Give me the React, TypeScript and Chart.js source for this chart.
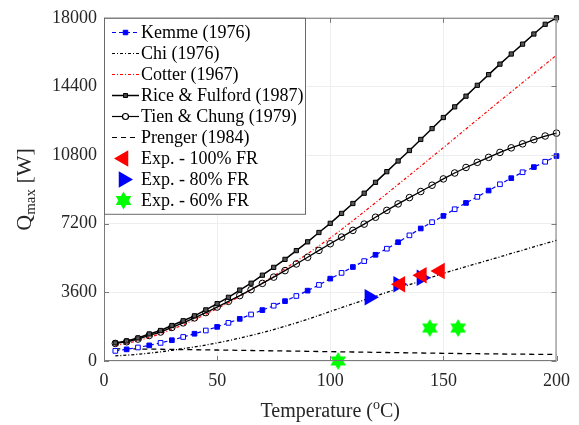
import React, { useEffect, useRef } from 'react';
import { Chart, registerables } from 'chart.js';
Chart.register(...registerables);

// ---------- data ----------
const temps = [5, 10, 15, 20, 25, 30, 35, 40, 45, 50, 55, 60, 65, 70, 75, 80, 85, 90, 95, 100,
  105, 110, 115, 120, 125, 130, 135, 140, 145, 150, 155, 160, 165, 170, 175, 180, 185, 190, 195, 200];

const kemme = [530, 610, 710, 820, 950, 1090, 1260, 1430, 1600, 1790, 2000, 2210, 2440, 2670, 2900, 3140, 3410, 3690, 3990, 4320,
  4620, 4930, 5240, 5570, 5890, 6230, 6590, 6950, 7280, 7610, 7960, 8290, 8610, 8940, 9270, 9590, 9900, 10170, 10450, 10750];

const chi = [270, 305, 350, 410, 480, 560, 650, 740, 840, 950, 1070, 1200, 1340, 1490, 1650, 1820, 2000, 2190, 2390, 2600,
  2800, 3000, 3200, 3400, 3600, 3800, 4000, 4200, 4400, 4600, 4775, 4950, 5120, 5290, 5460, 5640, 5810, 5990, 6160, 6330];

const cotter = [820, 920, 1060, 1240, 1430, 1660, 1900, 2160, 2450, 2750, 3060, 3390, 3730, 4090, 4460, 4840, 5230, 5630, 6040, 6450,
  6900, 7360, 7830, 8300, 8780, 9260, 9740, 10220, 10710, 11190, 11680, 12170, 12660, 13150, 13640, 14120, 14600, 15080, 15560, 16040];

const rice = [950, 1050, 1210, 1420, 1600, 1860, 2110, 2370, 2680, 3010, 3340, 3720, 4080, 4500, 4910, 5330, 5790, 6250, 6740, 7220,
  7740, 8260, 8800, 9370, 9930, 10490, 11040, 11620, 12190, 12770, 13330, 13890, 14460, 15020, 15570, 16100, 16620, 17150, 17660, 18000];

const tien = [920, 1010, 1150, 1340, 1520, 1760, 2000, 2260, 2540, 2830, 3130, 3430, 3740, 4070, 4400, 4740, 5090, 5440, 5800, 6150,
  6500, 6850, 7180, 7540, 7900, 8240, 8570, 8890, 9220, 9550, 9860, 10150, 10420, 10680, 10940, 11180, 11390, 11610, 11800, 11950];

const prenger = [640, 635, 630, 622, 615, 607, 600, 592, 584, 576, 568, 560, 552, 543, 535, 526, 517, 508, 499, 490,
  481, 472, 463, 454, 445, 436, 428, 420, 412, 404, 396, 389, 382, 375, 369, 363, 357, 352, 347, 342];

const exp100T = [131, 140.5, 148.5];
const exp100Q = [4030, 4500, 4720];
const exp80T = [117.3, 130, 140.3];
const exp80Q = [3340, 4030, 4370];
const exp60T = [103.5, 144, 156.5];
const exp60Q = [0, 1730, 1730];

const xTicks = [0, 50, 100, 150, 200];
const yTicks = [0, 3600, 7200, 10800, 14400, 18000];

const legendLabels = ['Kemme (1976)', 'Chi (1976)', 'Cotter (1967)', 'Rice & Fulford (1987)', 'Tien & Chung (1979)',
  'Prenger (1984)', 'Exp. - 100% FR', 'Exp. - 80% FR', 'Exp. - 60% FR'];

// ---------- helpers ----------
const SERIF = '"Liberation Serif", "Times New Roman", serif';
const BLUE = '#0000ff';
const RED = '#ff0000';
const GREEN = '#00ff00';

function pts(xs: number[], ys: number[]) {
  return xs.map((x, i) => ({ x, y: ys[i] }));
}

function hexPath(ctx: CanvasRenderingContext2D, cx: number, cy: number, R: number) {
  const r = R / Math.sqrt(3);
  ctx.beginPath();
  for (let i = 0; i < 12; i++) {
    const a = -Math.PI / 2 + (i * Math.PI) / 6;
    const rad = i % 2 === 0 ? R : r;
    const px = cx + rad * Math.cos(a);
    const py = cy + rad * Math.sin(a);
    if (i === 0) ctx.moveTo(px, py);
    else ctx.lineTo(px, py);
  }
  ctx.closePath();
}

function makeStar(): HTMLCanvasElement {
  const c = document.createElement('canvas');
  c.width = 20;
  c.height = 20;
  const g = c.getContext('2d')!;
  hexPath(g, 10, 10, 9);
  g.fillStyle = GREEN;
  g.fill();
  return c;
}

function drawRectMarker(ctx: CanvasRenderingContext2D, x: number, y: number, s: number, fill: string, stroke: string) {
  ctx.save();
  ctx.setLineDash([]);
  ctx.fillStyle = fill;
  ctx.strokeStyle = stroke;
  ctx.lineWidth = 1;
  ctx.beginPath();
  ctx.rect(x - s / 2, y - s / 2, s, s);
  ctx.fill();
  ctx.stroke();
  ctx.restore();
}

function drawTri(ctx: CanvasRenderingContext2D, x: number, y: number, r: number, dir: number, color: string) {
  ctx.save();
  ctx.fillStyle = color;
  ctx.beginPath();
  ctx.moveTo(x + dir * r, y);
  ctx.lineTo(x - dir * r * 0.5, y - r * 0.866);
  ctx.lineTo(x - dir * r * 0.5, y + r * 0.866);
  ctx.closePath();
  ctx.fill();
  ctx.restore();
}

const overlay = {
  id: 'overlay',
  afterDraw(chart: any) {
    const ctx: CanvasRenderingContext2D = chart.ctx;
    const { left, right, top, bottom } = chart.chartArea;
    const xs = chart.scales.x;
    const ys = chart.scales.y;
    ctx.save();
    // axes box
    ctx.strokeStyle = '#7a7a7a';
    ctx.lineWidth = 1;
    ctx.setLineDash([]);
    ctx.strokeRect(left + 0.5, top + 0.5, right - left - 1, bottom - top - 1);
    // inward ticks
    ctx.beginPath();
    xTicks.forEach((t) => {
      const px = Math.round(xs.getPixelForValue(t)) + 0.5;
      ctx.moveTo(px, bottom);
      ctx.lineTo(px, bottom - 5);
      ctx.moveTo(px, top);
      ctx.lineTo(px, top + 5);
    });
    yTicks.forEach((t) => {
      const py = Math.round(ys.getPixelForValue(t)) + 0.5;
      ctx.moveTo(left, py);
      ctx.lineTo(left + 5, py);
      ctx.moveTo(right, py);
      ctx.lineTo(right - 5, py);
    });
    ctx.stroke();

    // legend
    const bx = left + 0.5, by = top + 0.5, bw = 201, bh = 196;
    ctx.fillStyle = '#ffffff';
    ctx.fillRect(bx, by, bw, bh);
    ctx.strokeStyle = '#6a6a6a';
    ctx.strokeRect(bx, by, bw, bh);
    const x0 = 112, x1 = 139, xm = 125.5, tx = 141;
    ctx.font = '18px ' + SERIF;
    ctx.textBaseline = 'middle';
    ctx.textAlign = 'left';
    legendLabels.forEach((lab, i) => {
      const y = 32.5 + i * 21;
      ctx.save();
      ctx.lineWidth = 1.2;
      if (i === 0) {
        ctx.strokeStyle = BLUE; ctx.setLineDash([4, 3]);
        ctx.beginPath(); ctx.moveTo(x0, y); ctx.lineTo(x1, y); ctx.stroke();
        drawRectMarker(ctx, xm, y, 4.5, BLUE, BLUE);
      } else if (i === 1 || i === 2) {
        ctx.strokeStyle = i === 1 ? '#000' : RED; ctx.setLineDash([3, 2, 1, 2]);
        ctx.beginPath(); ctx.moveTo(x0, y); ctx.lineTo(x1, y); ctx.stroke();
      } else if (i === 3) {
        ctx.strokeStyle = '#000'; ctx.lineWidth = 1.5;
        ctx.beginPath(); ctx.moveTo(x0, y); ctx.lineTo(x1, y); ctx.stroke();
        drawRectMarker(ctx, xm, y, 4, '#444', '#000');
      } else if (i === 4) {
        ctx.strokeStyle = '#000';
        ctx.beginPath(); ctx.moveTo(x0, y); ctx.lineTo(x1, y); ctx.stroke();
        ctx.fillStyle = '#fff';
        ctx.beginPath(); ctx.arc(xm, y, 3, 0, Math.PI * 2); ctx.fill(); ctx.stroke();
      } else if (i === 5) {
        ctx.strokeStyle = '#000'; ctx.setLineDash([5, 4]);
        ctx.beginPath(); ctx.moveTo(x0, y); ctx.lineTo(x1, y); ctx.stroke();
      } else if (i === 6) {
        drawTri(ctx, 123.5, y, 9.5, -1, RED);
      } else if (i === 7) {
        drawTri(ctx, 123.5, y, 9.5, 1, BLUE);
      } else {
        hexPath(ctx, 123.5, y, 9);
        ctx.fillStyle = GREEN; ctx.fill();
      }
      ctx.restore();
      ctx.fillStyle = '#000';
      ctx.fillText(lab, tx, y + 1);
    });

    // x title
    ctx.fillStyle = '#262626';
    ctx.textBaseline = 'alphabetic';
    const big = '20px ' + SERIF, small = '14px ' + SERIF;
    const p1 = 'Temperature (', p2 = 'o', p3 = 'C)';
    ctx.font = big; const w1 = ctx.measureText(p1).width; const w3 = ctx.measureText(p3).width;
    ctx.font = small; const w2 = ctx.measureText(p2).width;
    const cx = (left + right) / 2;
    let sx = cx - (w1 + w2 + w3) / 2;
    const base = 417;
    ctx.font = big; ctx.fillText(p1, sx, base); sx += w1;
    ctx.font = small; ctx.fillText(p2, sx, base - 8); sx += w2;
    ctx.font = big; ctx.fillText(p3, sx, base);

    // y title
    ctx.save();
    ctx.translate(31, (top + bottom) / 2);
    ctx.rotate(-Math.PI / 2);
    const q1 = 'Q', q2 = 'max', q3 = ' [W]';
    const bigY = '22px ' + SERIF;
    const smallY = '15px ' + SERIF;
    ctx.font = bigY; const v1 = ctx.measureText(q1).width; const v3 = ctx.measureText(q3).width;
    ctx.font = smallY; const v2 = ctx.measureText(q2).width;
    let sy = -(v1 + v2 + v3) / 2;
    ctx.font = bigY; ctx.fillText(q1, sy, 0); sy += v1;
    ctx.font = smallY; ctx.fillText(q2, sy, 4); sy += v2;
    ctx.font = bigY; ctx.fillText(q3, sy, 0);
    ctx.restore();

    ctx.restore();
  },
};

export default function App() {
  const ref = useRef<HTMLCanvasElement | null>(null);
  useEffect(() => {
    if (!ref.current) return;
    const star = makeStar();
    const kemmeFill = temps.map((_, i) => (i % 2 === 0 ? '#ffffff' : BLUE));
    const lineBase = { showLine: true, tension: 0, clip: false as any, fill: false };
    const chart = new Chart(ref.current, {
      type: 'scatter',
      data: {
        datasets: [
          { ...lineBase, label: 'Kemme', data: pts(temps, kemme), borderColor: BLUE, borderWidth: 1.2, borderDash: [4, 3],
            pointStyle: 'rect', pointRadius: 3.3, pointBorderColor: BLUE, pointBackgroundColor: kemmeFill, pointBorderWidth: 1, order: 5 },
          { ...lineBase, label: 'Chi', data: pts(temps, chi), borderColor: '#000', borderWidth: 1.3, borderDash: [3, 2, 1, 2], pointRadius: 0, order: 6 },
          { ...lineBase, label: 'Cotter', data: pts(temps, cotter), borderColor: RED, borderWidth: 1.2, borderDash: [3, 2, 1, 2], pointRadius: 0, order: 6 },
          { ...lineBase, label: 'Rice', data: pts(temps, rice), borderColor: '#000', borderWidth: 1.5,
            pointStyle: 'rect', pointRadius: 3, pointBorderColor: '#000', pointBackgroundColor: '#555', pointBorderWidth: 1, order: 4 },
          { ...lineBase, label: 'Tien', data: pts(temps, tien), borderColor: '#000', borderWidth: 1.3,
            pointStyle: 'circle', pointRadius: 3.3, pointBorderColor: '#000', pointBackgroundColor: 'rgba(255,255,255,0)', pointBorderWidth: 1, order: 4 },
          { ...lineBase, label: 'Prenger', data: pts(temps, prenger), borderColor: '#000', borderWidth: 1.3, borderDash: [5, 4], pointRadius: 0, order: 6 },
          { label: 'Exp100', data: pts(exp100T, exp100Q), showLine: false, clip: false as any, pointStyle: 'triangle', rotation: -90,
            pointRadius: 9.5, pointBackgroundColor: RED, pointBorderColor: RED, pointBorderWidth: 0, order: 0 },
          { label: 'Exp80', data: pts(exp80T, exp80Q), showLine: false, clip: false as any, pointStyle: 'triangle', rotation: 90,
            pointRadius: 9.5, pointBackgroundColor: BLUE, pointBorderColor: BLUE, pointBorderWidth: 0, order: 1 },
          { label: 'Exp60', data: pts(exp60T, exp60Q), showLine: false, clip: false as any, pointStyle: star as any,
            pointRadius: 9, order: 1 },
        ],
      },
      options: {
        animation: false,
        responsive: true,
        maintainAspectRatio: false,
        events: [],
        layout: { padding: { left: 0, right: 22, top: 14, bottom: 0 } },
        plugins: { legend: { display: false }, tooltip: { enabled: false } },
        scales: {
          x: {
            type: 'linear', min: 0, max: 200,
            afterFit: (s: any) => { s.height = 64; },
            afterBuildTicks: (s: any) => { s.ticks = xTicks.map((v) => ({ value: v })); },
            grid: { color: '#eeeeee', drawTicks: false },
            border: { display: false },
            ticks: { padding: 9, color: '#262626', font: { family: SERIF, size: 18 }, callback: (v: any) => String(v) },
          },
          y: {
            type: 'linear', min: 0, max: 18000,
            afterFit: (s: any) => { s.width = 104; },
            afterBuildTicks: (s: any) => { s.ticks = yTicks.map((v) => ({ value: v })); },
            grid: { color: '#eeeeee', drawTicks: false },
            border: { display: false },
            ticks: { padding: 7, color: '#262626', font: { family: SERIF, size: 18 }, callback: (v: any) => String(v) },
          },
        },
      },
      plugins: [overlay],
    });
    return () => chart.destroy();
  }, []);
  return (
    <div style={{ position: 'fixed', left: 0, top: 0, width: 579, height: 425, background: '#fff' }}>
      <canvas ref={ref} />
    </div>
  );
}
